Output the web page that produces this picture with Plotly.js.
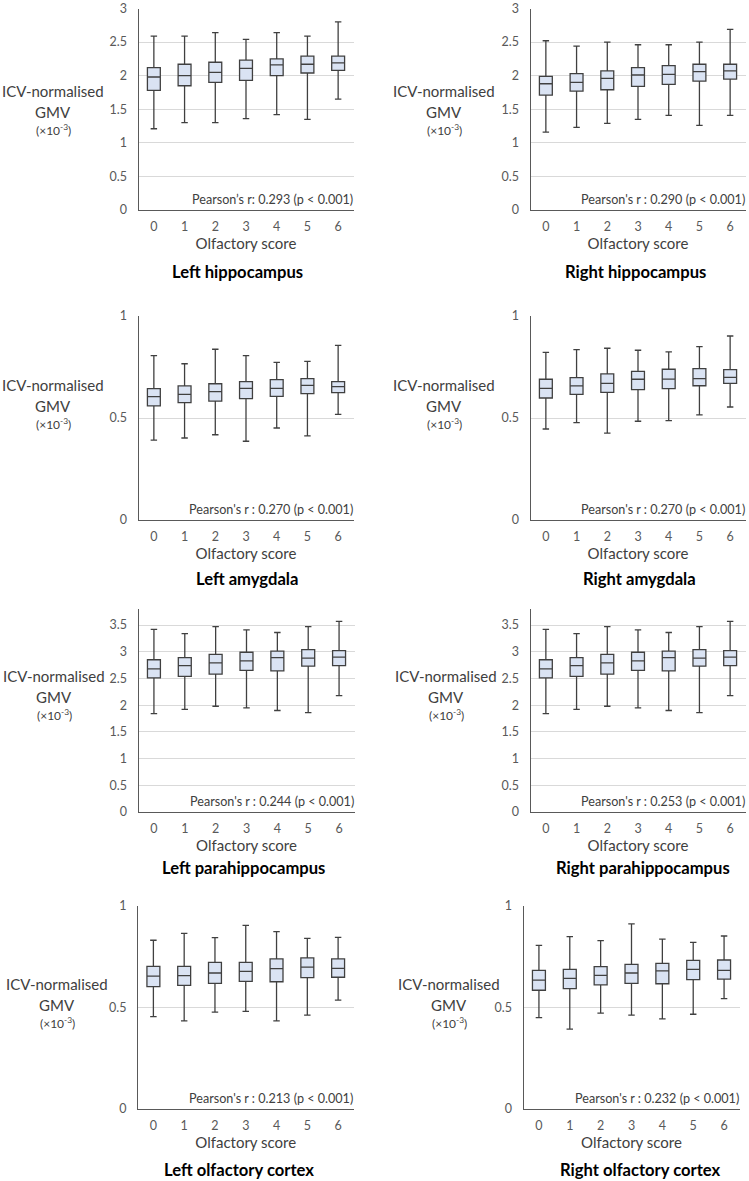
<!DOCTYPE html>
<html>
<head>
<meta charset="utf-8">
<script src="https://cdn.plot.ly/plotly-3.0.1.min.js"></script>
<style>
  html, body { margin: 0; padding: 0; background: #ffffff; }
  #chart { width: 749px; height: 1181px; }
</style>
</head>
<body>
<div id="chart"></div>
<script>
// ---------- DATA ----------
const scores = [0, 1, 2, 3, 4, 5, 6];
const tickLabels = ['0', '1', '2', '3', '4', '5', '6'];

// Left hippocampus
const lhipMin = [1.21, 1.30, 1.30, 1.36, 1.42, 1.35, 1.65];
const lhipQ1  = [1.78, 1.85, 1.90, 1.93, 2.00, 2.04, 2.08];
const lhipMed = [1.98, 2.00, 2.05, 2.11, 2.16, 2.17, 2.19];
const lhipQ3  = [2.12, 2.17, 2.20, 2.23, 2.25, 2.29, 2.29];
const lhipMax = [2.59, 2.59, 2.64, 2.54, 2.64, 2.59, 2.80];

// Right hippocampus
const rhipMin = [1.16, 1.23, 1.29, 1.35, 1.41, 1.26, 1.41];
const rhipQ1  = [1.71, 1.77, 1.79, 1.84, 1.87, 1.92, 1.95];
const rhipMed = [1.88, 1.90, 1.96, 2.01, 2.02, 2.06, 2.07];
const rhipQ3  = [1.99, 2.03, 2.07, 2.12, 2.15, 2.17, 2.17];
const rhipMax = [2.52, 2.44, 2.50, 2.46, 2.46, 2.50, 2.69];

// Left amygdala
const lamyMin = [0.392, 0.402, 0.418, 0.386, 0.451, 0.412, 0.518];
const lamyQ1  = [0.559, 0.575, 0.583, 0.595, 0.606, 0.619, 0.624];
const lamyMed = [0.605, 0.616, 0.629, 0.645, 0.645, 0.660, 0.654];
const lamyQ3  = [0.644, 0.657, 0.668, 0.678, 0.688, 0.693, 0.678];
const lamyMax = [0.806, 0.766, 0.837, 0.806, 0.773, 0.778, 0.856];

// Right amygdala
const ramyMin = [0.446, 0.477, 0.426, 0.484, 0.487, 0.515, 0.554];
const ramyQ1  = [0.598, 0.616, 0.626, 0.639, 0.644, 0.658, 0.670];
const ramyMed = [0.645, 0.657, 0.670, 0.690, 0.691, 0.693, 0.699];
const ramyQ3  = [0.690, 0.698, 0.716, 0.729, 0.739, 0.742, 0.737];
const ramyMax = [0.822, 0.835, 0.842, 0.832, 0.824, 0.850, 0.902];

// Left parahippocampus
const lparMin = [1.84, 1.92, 1.98, 1.95, 1.90, 1.86, 2.18];
const lparQ1  = [2.51, 2.54, 2.58, 2.65, 2.64, 2.73, 2.74];
const lparMed = [2.68, 2.74, 2.79, 2.83, 2.89, 2.88, 2.90];
const lparQ3  = [2.85, 2.89, 2.95, 2.99, 3.01, 3.04, 3.02];
const lparMax = [3.42, 3.34, 3.47, 3.41, 3.36, 3.47, 3.57];

// Right parahippocampus
const rparMin = [1.84, 1.92, 1.98, 1.95, 1.90, 1.86, 2.18];
const rparQ1  = [2.51, 2.54, 2.58, 2.65, 2.64, 2.73, 2.74];
const rparMed = [2.68, 2.74, 2.79, 2.83, 2.89, 2.88, 2.90];
const rparQ3  = [2.85, 2.89, 2.95, 2.99, 3.01, 3.04, 3.02];
const rparMax = [3.42, 3.34, 3.47, 3.41, 3.36, 3.47, 3.57];

// Left olfactory cortex
const lolfMin = [0.454, 0.433, 0.477, 0.480, 0.433, 0.462, 0.536];
const lolfQ1  = [0.602, 0.608, 0.618, 0.628, 0.626, 0.646, 0.648];
const lolfMed = [0.654, 0.656, 0.669, 0.677, 0.690, 0.698, 0.692];
const lolfQ3  = [0.702, 0.702, 0.721, 0.721, 0.738, 0.743, 0.738];
const lolfMax = [0.830, 0.864, 0.843, 0.903, 0.872, 0.839, 0.844];

// Right olfactory cortex
const rolfMin = [0.449, 0.393, 0.472, 0.462, 0.443, 0.466, 0.543];
const rolfQ1  = [0.584, 0.592, 0.611, 0.618, 0.616, 0.636, 0.639];
const rolfMed = [0.634, 0.643, 0.657, 0.669, 0.679, 0.687, 0.682];
const rolfQ3  = [0.682, 0.687, 0.700, 0.711, 0.716, 0.731, 0.733];
const rolfMax = [0.805, 0.848, 0.828, 0.911, 0.836, 0.820, 0.851];

const panelTitles = ['Left hippocampus', 'Right hippocampus', 'Left amygdala', 'Right amygdala',
                     'Left parahippocampus', 'Right parahippocampus', 'Left olfactory cortex', 'Right olfactory cortex'];
const pearsonTexts = ['Pearson\u2019s r: 0.293 (p < 0.001)', "Pearson's r : 0.290 (p < 0.001)",
                      "Pearson's r : 0.270 (p < 0.001)", "Pearson's r : 0.270 (p < 0.001)",
                      "Pearson's r : 0.244 (p < 0.001)", "Pearson's r : 0.253 (p < 0.001)",
                      "Pearson's r : 0.213 (p < 0.001)", "Pearson's r : 0.232 (p < 0.001)"];
const xAxisTitle = 'Olfactory score';
const yLabelLines = ['ICV-normalised', 'GMV', '(\u00d710<sup>-3</sup>)'];

const seriesSets = [
  [lhipMin, lhipQ1, lhipMed, lhipQ3, lhipMax],
  [rhipMin, rhipQ1, rhipMed, rhipQ3, rhipMax],
  [lamyMin, lamyQ1, lamyMed, lamyQ3, lamyMax],
  [ramyMin, ramyQ1, ramyMed, ramyQ3, ramyMax],
  [lparMin, lparQ1, lparMed, lparQ3, lparMax],
  [rparMin, rparQ1, rparMed, rparQ3, rparMax],
  [lolfMin, lolfQ1, lolfMed, lolfQ3, lolfMax],
  [rolfMin, rolfQ1, rolfMed, rolfQ3, rolfMax]
];

// ---------- LAYOUT GEOMETRY (pixels) ----------
const W = 749, H = 1181;
const px = v => v / W;
const py = v => 1 - v / H;

const rowY = [[8.5, 210], [316, 520], [609, 812], [905.7, 1109]];
const yRanges = [[0, 3], [0, 1], [0, 3.8], [0, 1]];
const colX = [[[138.5, 353.5], [530.5, 745.5]],
              [[138.5, 353.5], [530.5, 745.5]],
              [[138.5, 354.5], [530.5, 745.5]],
              [[138.0, 353.5], [523.5, 739.5]]];
const yLabelX = [[53, 444], [53, 444], [54, 446], [57, 449]];
const yLabelY = [90.7, 385, 675.7, 983.7];
const titleX = [[238, 635], [247, 639], [243, 643], [239, 640]];
const titleY = [271.7, 579.3, 868.3, 1170];

const FONT = 'Lato, "Open Sans", sans-serif';
const tickColor = '#595959';
const textColor = '#404040';

const data = [];
const layout = {
  width: W, height: H,
  margin: {l: 0, r: 0, t: 0, b: 0},
  paper_bgcolor: '#ffffff',
  plot_bgcolor: '#ffffff',
  showlegend: false,
  font: {family: FONT, color: textColor},
  annotations: []
};

for (let i = 0; i < 8; i++) {
  const row = Math.floor(i / 2), col = i % 2;
  const n = i + 1;
  const xa = n === 1 ? 'x' : 'x' + n;
  const ya = n === 1 ? 'y' : 'y' + n;
  const s = seriesSets[i];
  data.push({
    type: 'box',
    x: scores,
    lowerfence: s[0], q1: s[1], median: s[2], q3: s[3], upperfence: s[4],
    xaxis: xa, yaxis: ya,
    width: 0.42,
    whiskerwidth: 0.5,
    boxpoints: false,
    fillcolor: '#dae3f3',
    line: {color: '#404040', width: 1.3},
    hoverinfo: 'y'
  });
  const xd = colX[row][col];
  const yd = rowY[row];
  layout['xaxis' + (n === 1 ? '' : n)] = {
    domain: [px(xd[0]), px(xd[1])],
    anchor: ya,
    range: [-0.5, 6.5],
    tickvals: scores, ticktext: tickLabels,
    showgrid: false, zeroline: false,
    showline: true, linecolor: '#595959', linewidth: 1,
    ticks: '', ticklabelstandoff: 5,
    tickfont: {family: FONT, size: 12.5, color: tickColor},
    title: {text: xAxisTitle, font: {family: FONT, size: 15, color: textColor}, standoff: 0},
    automargin: false, fixedrange: true
  };
  layout['yaxis' + (n === 1 ? '' : n)] = {
    domain: [py(yd[1]), py(yd[0])],
    anchor: xa,
    range: yRanges[row],
    dtick: 0.5,
    showgrid: true, gridcolor: '#d9d9d9', gridwidth: 1,
    zeroline: false,
    showline: true, linecolor: '#595959', linewidth: 1,
    ticks: '', ticklabelstandoff: 8,
    ticklabeloverflow: 'allow',
    tickfont: {family: FONT, size: 12.5, color: tickColor},
    automargin: false, fixedrange: true
  };
  // y label (horizontal, three lines)
  const lx = px(yLabelX[row][col]);
  const ly0 = yLabelY[row];
  const lineOffsets = [0, 21, 39];
  const lineSizes = [15, 15, 12];
  for (let k = 0; k < 3; k++) {
    layout.annotations.push({
      xref: 'paper', yref: 'paper', x: lx, y: py(ly0 + lineOffsets[k]),
      xanchor: 'center', yanchor: 'middle', showarrow: false,
      text: yLabelLines[k], font: {family: FONT, size: lineSizes[k], color: textColor}
    });
  }
  // Pearson annotation
  layout.annotations.push({
    xref: 'paper', yref: 'paper', x: px(xd[1] + 1.5), y: py(yd[1] - 11),
    xanchor: 'right', yanchor: 'middle', showarrow: false,
    text: pearsonTexts[i], font: {family: FONT, size: 12.6, color: textColor}
  });
  // Panel title
  layout.annotations.push({
    xref: 'paper', yref: 'paper', x: px(titleX[row][col]), y: py(titleY[row]),
    xanchor: 'center', yanchor: 'middle', showarrow: false,
    text: '<b>' + panelTitles[i] + '</b>', font: {family: FONT, size: 16.6, color: '#000000'}
  });
}

Plotly.newPlot('chart', data, layout, {displayModeBar: false, staticPlot: true});
</script>
</body>
</html>
